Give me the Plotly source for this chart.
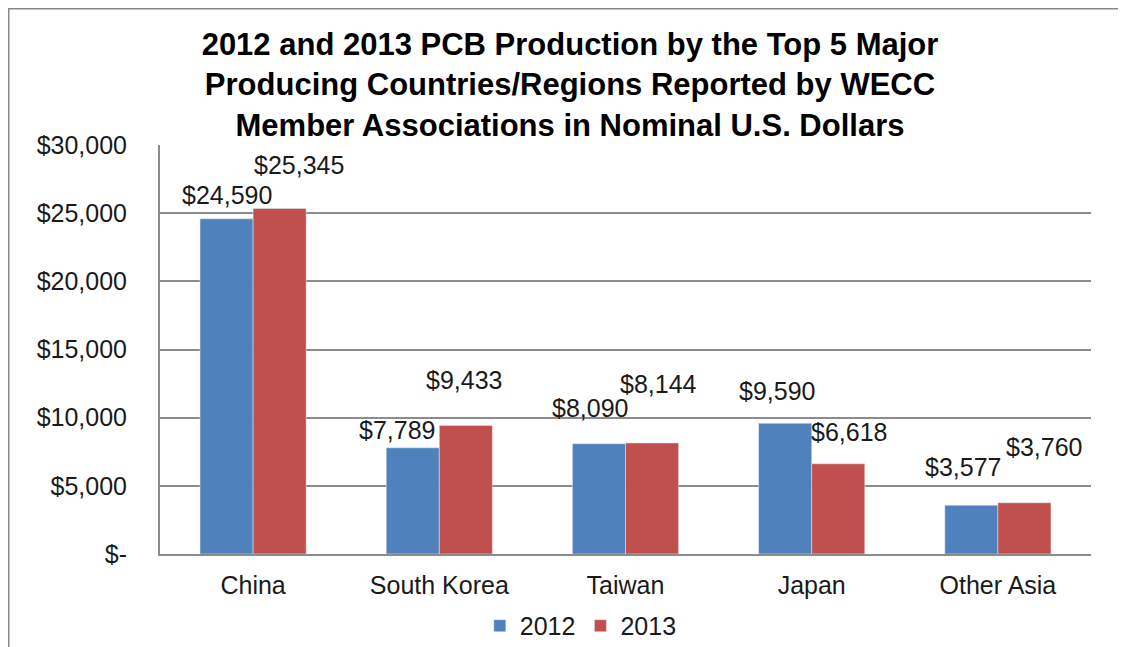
import plotly.graph_objects as go

categories = ["China", "South Korea", "Taiwan", "Japan", "Other Asia"]
values_2012 = [24590, 7789, 8090, 9590, 3577]
values_2013 = [25345, 9433, 8144, 6618, 3760]
tick_vals = [0, 5000, 10000, 15000, 20000, 25000, 30000]
tick_text = ["$-", "$5,000", "$10,000", "$15,000", "$20,000", "$25,000", "$30,000"]

# manual label placement (pixel offsets from each bar's top centre), style only
offsets_2012 = [(0, 24), (-16, 18), (-9, 36), (-8, 32), (-8, 38)]
offsets_2013 = [(19, 43), (-2, 45), (6, 59), (11, 32), (20, 56)]

FONT = "Liberation Sans, Arial, sans-serif"
BLUE = "#4F81BD"
RED = "#C0504D"
GRID = "#8C8C8C"
HALF_BAR = 26.5

# page body has an 8px margin, so the figure is drawn offset by (8, 8)
OFF = 8
L, T, PW, PH = 160 - OFF, 145 - OFF, 931, 409
W, H = 1126, 647

fig = go.Figure()
fig.add_trace(go.Bar(name="2012", x=categories, y=values_2012, marker_color=BLUE))
fig.add_trace(go.Bar(name="2013", x=categories, y=values_2013, marker_color=RED))

annotations = []
for vals, offs, sign in [(values_2012, offsets_2012, -1), (values_2013, offsets_2013, 1)]:
    for cat, v, (dx, dy) in zip(categories, vals, offs):
        annotations.append(dict(
            x=cat, y=v, xref="x", yref="y", text=f"${v:,}", showarrow=False,
            xshift=sign * HALF_BAR + dx, yshift=dy, xanchor="center", yanchor="middle",
            font=dict(family=FONT, size=25, color="#1a1a1a"),
        ))

fig.update_layout(
    width=W, height=H,
    margin=dict(l=L, r=W - L - PW, t=T, b=H - T - PH, autoexpand=False),
    paper_bgcolor="white", plot_bgcolor="white",
    barmode="group", bargap=0.43, bargroupgap=0,
    title=dict(
        text="2012 and 2013 PCB Production by the Top 5 Major<br>Producing Countries/Regions Reported by WECC<br>Member Associations in Nominal U.S. Dollars",
        x=562 / W, xanchor="center", xref="container",
        y=1 - 47 / H, yanchor="top", yref="container",
        font=dict(family=FONT, size=31, color="#000000", weight="bold"),
    ),
    font=dict(family=FONT, size=25, color="#1a1a1a"),
    xaxis=dict(
        showline=True, linecolor=GRID, linewidth=2, ticks="", showgrid=False,
        automargin=False,
        tickfont=dict(family=FONT, size=25, color="#1a1a1a"), ticklabelstandoff=8,
    ),
    yaxis=dict(
        range=[0, 30000], tickvals=tick_vals, ticktext=tick_text,
        showgrid=True, gridcolor=GRID, gridwidth=2, zeroline=False,
        showline=True, linecolor=GRID, linewidth=2, ticks="", automargin=False,
        tickfont=dict(family=FONT, size=25, color="#1a1a1a"), ticklabelstandoff=26,
    ),
    legend=dict(
        orientation="h", x=0.452, xanchor="center", y=-0.176, yanchor="middle",
        font=dict(family=FONT, size=25, color="#1a1a1a"), itemwidth=30,
        bgcolor="rgba(0,0,0,0)",
    ),
    annotations=annotations,
    shapes=[
        dict(type="line", xref="paper", yref="paper",
             x0=-L / PW, x1=(W - L) / PW, y0=(T + PH) / PH, y1=(T + PH) / PH,
             line=dict(color="#888888", width=3)),
        dict(type="line", xref="paper", yref="paper",
             x0=-L / PW, x1=-L / PW, y0=(T + PH) / PH, y1=(T + PH - H) / PH,
             line=dict(color="#888888", width=3)),
    ],
)

fig.write_html("out.html")
